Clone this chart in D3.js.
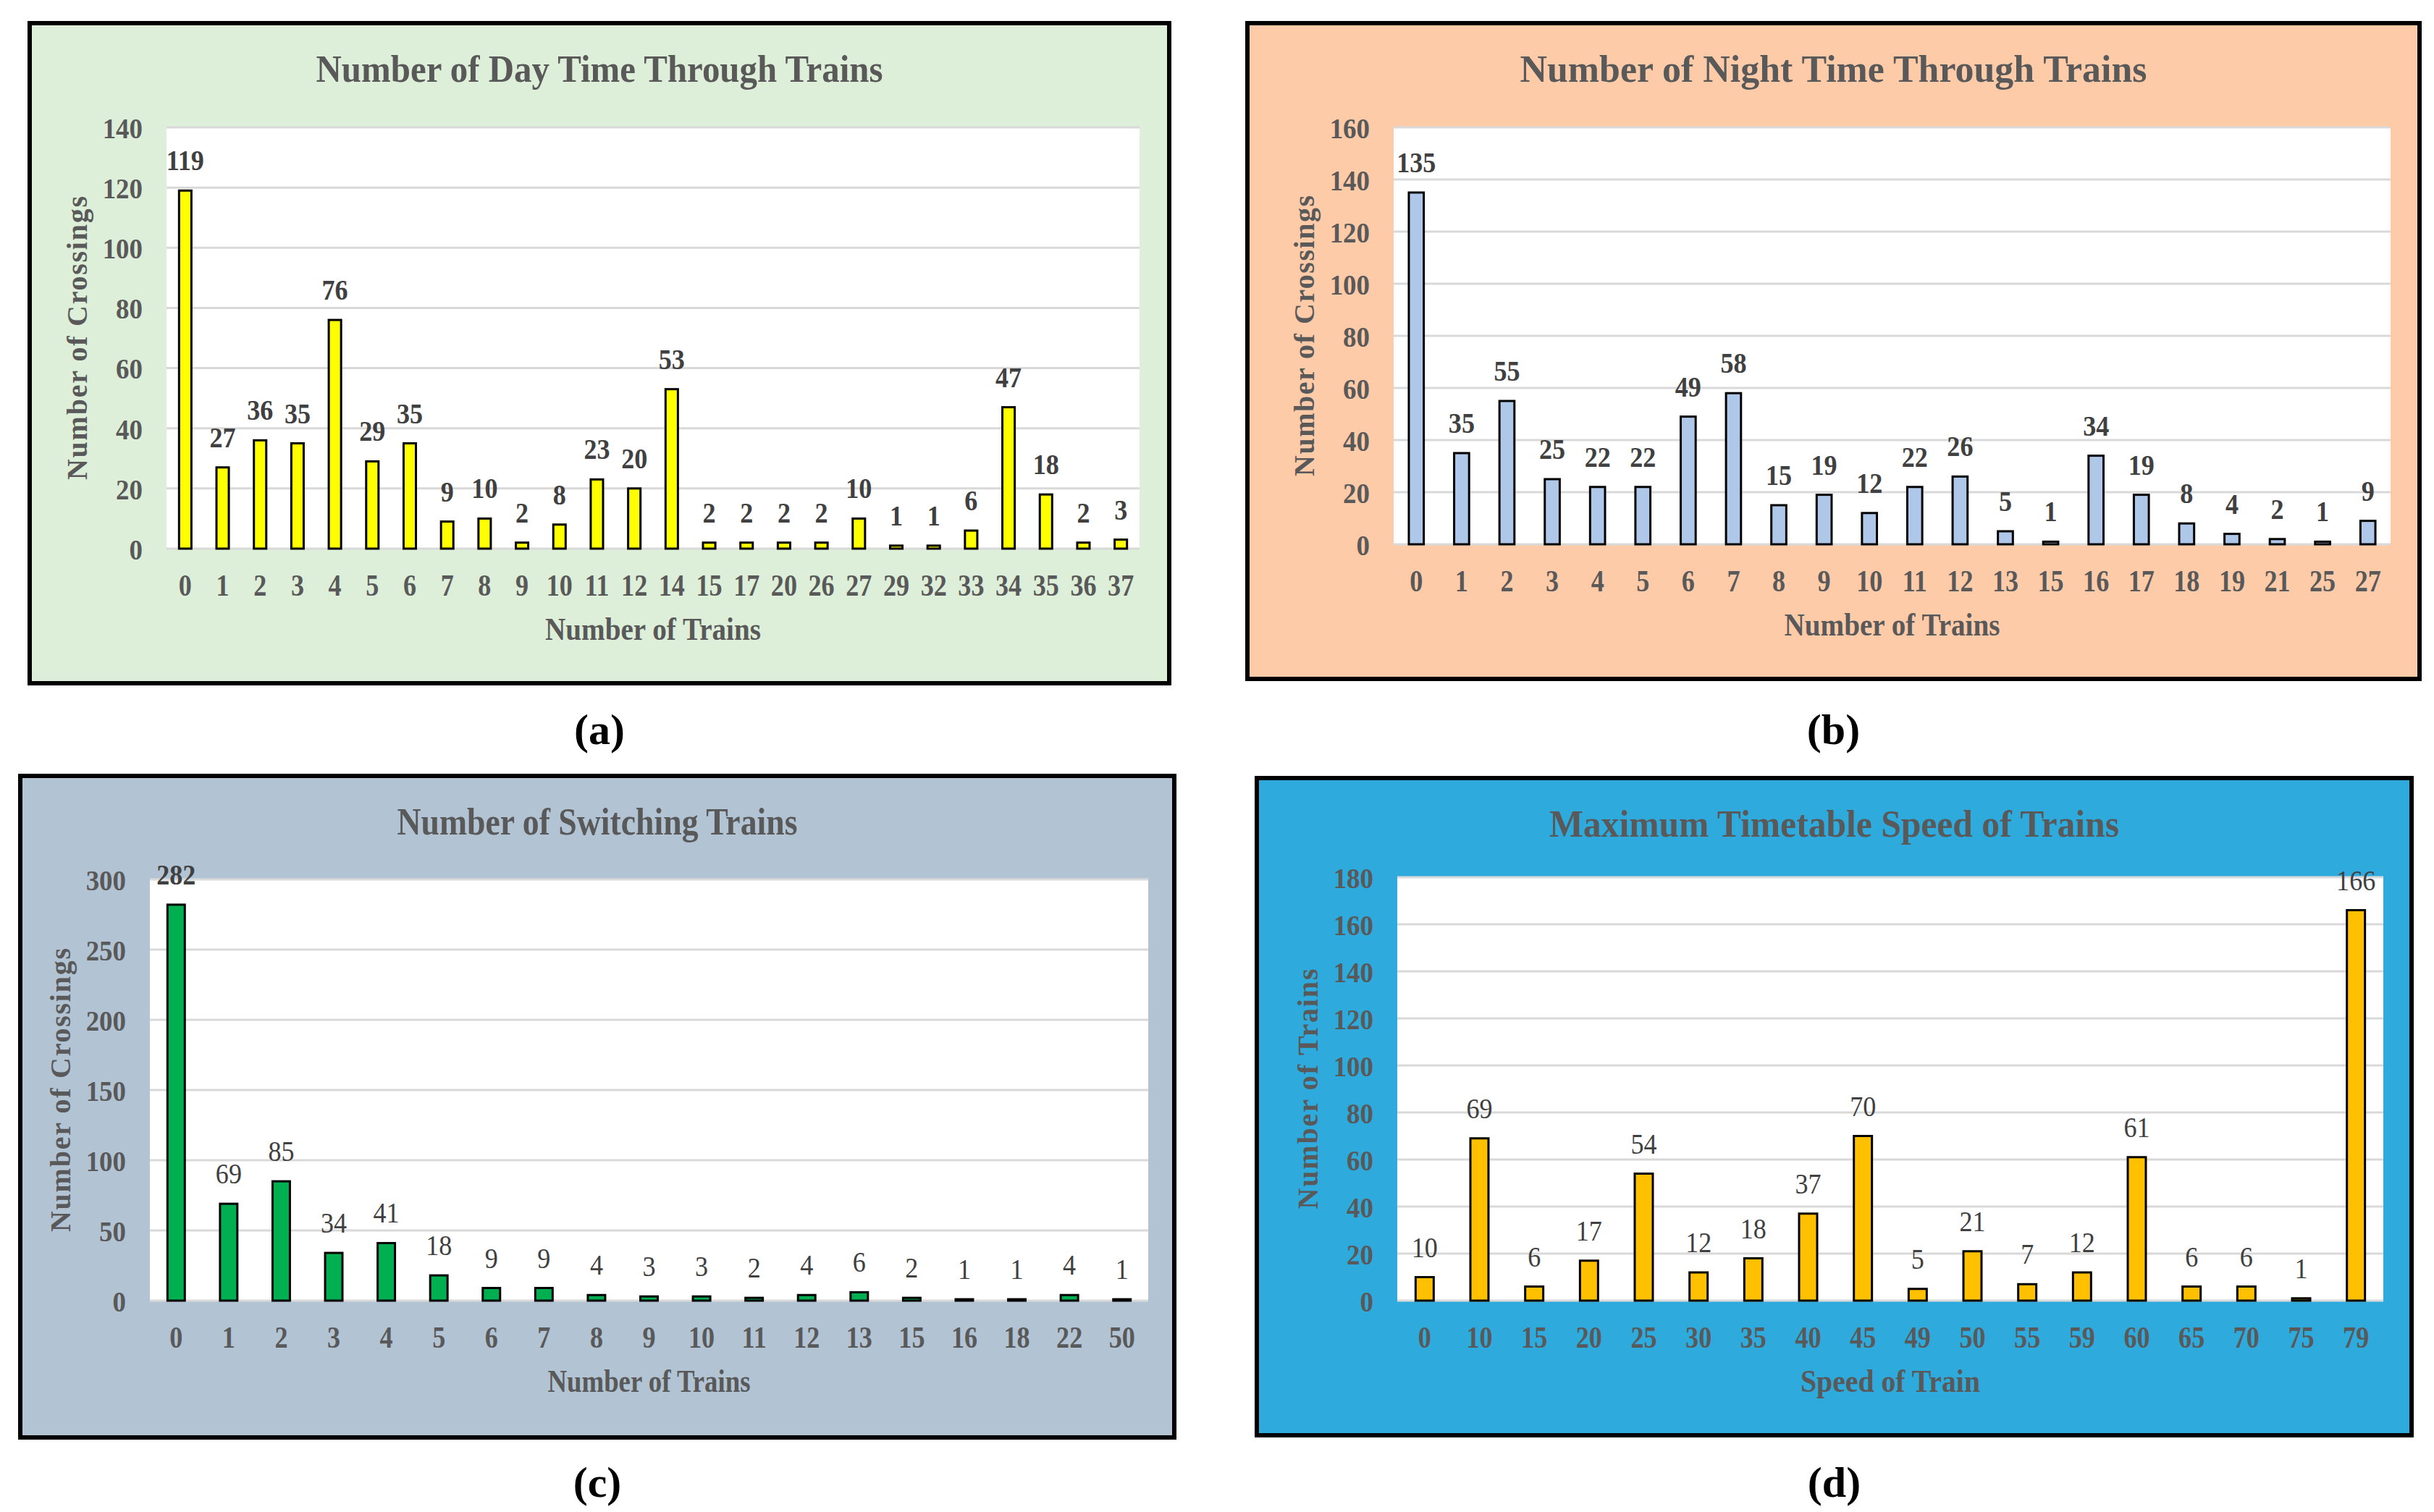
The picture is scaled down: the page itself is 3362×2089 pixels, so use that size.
<!DOCTYPE html>
<html>
<head>
<meta charset="utf-8">
<script src="https://cdn.jsdelivr.net/npm/d3@7"></script>
<style>
  body { margin: 0; background: #fff; }
  svg { display: block; }
</style>
</head>
<body>
<svg id="chart" width="3362" height="2089"></svg>
<script>
// (a) day time through trains
var dayTrains = ["0","1","2","3","4","5","6","7","8","9","10","11","12","14","15","17","20","26","27","29","32","33","34","35","36","37"];
var dayCrossings = [119,27,36,35,76,29,35,9,10,2,8,23,20,53,2,2,2,2,10,1,1,6,47,18,2,3];

// (b) night time through trains
var nightTrains = ["0","1","2","3","4","5","6","7","8","9","10","11","12","13","15","16","17","18","19","21","25","27"];
var nightCrossings = [135,35,55,25,22,22,49,58,15,19,12,22,26,5,1,34,19,8,4,2,1,9];

// (c) switching trains
var switchTrains = ["0","1","2","3","4","5","6","7","8","9","10","11","12","13","15","16","18","22","50"];
var switchCrossings = [282,69,85,34,41,18,9,9,4,3,3,2,4,6,2,1,1,4,1];

// (d) maximum timetable speed
var speeds = ["0","10","15","20","25","30","35","40","45","49","50","55","59","60","65","70","75","79"];
var speedTrains = [10,69,6,17,54,12,18,37,70,5,21,7,12,61,6,6,1,166];

var yTicksA = [0,20,40,60,80,100,120,140];
var yTicksB = [0,20,40,60,80,100,120,140,160];
var yTicksC = [0,50,100,150,200,250,300];
var yTicksD = [0,20,40,60,80,100,120,140,160,180];

var serif = "'Liberation Serif', 'Times New Roman', serif";
var svg = d3.select("#chart");

// layout of the four panels (box / plot = x0, y0, x1, y1)
var panels = [
  { title: "Number of Day Time Through Trains", cats: dayTrains, vals: dayCrossings, ticks: yTicksA,
    xTitle: "Number of Trains", yTitle: "Number of Crossings", tag: "(a)",
    bg: "#DEEFD9", bar: "#FFFF00", box: [38, 29, 1618, 947], plot: [230, 176, 1574, 758],
    titleW: 783, xTitleW: 298, yTitleW: 392, tagY: 1008, boldLabels: true, boldFirst: true },
  { title: "Number of Night Time Through Trains", cats: nightTrains, vals: nightCrossings, ticks: yTicksB,
    xTitle: "Number of Trains", yTitle: "Number of Crossings", tag: "(b)",
    bg: "#FECBA9", bar: "#AFC8EA", box: [1720, 29, 3345, 941], plot: [1925, 176, 3302, 752],
    titleW: 866, xTitleW: 298, yTitleW: 388, tagY: 1008, boldLabels: true, boldFirst: true },
  { title: "Number of Switching Trains", cats: switchTrains, vals: switchCrossings, ticks: yTicksC,
    xTitle: "Number of Trains", yTitle: "Number of Crossings", tag: "(c)",
    bg: "#B2C3D4", bar: "#00B050", box: [25, 1069, 1625, 1989], plot: [207, 1215, 1586, 1797],
    titleW: 553, xTitleW: 280, yTitleW: 392, tagY: 2048, boldLabels: false, boldFirst: true },
  { title: "Maximum Timetable Speed of Trains", cats: speeds, vals: speedTrains, ticks: yTicksD,
    xTitle: "Speed of Train", yTitle: "Number of Trains", tag: "(d)",
    bg: "#2EAADD", bar: "#FFC000", box: [1733, 1072, 3334, 1986], plot: [1930, 1212, 3292, 1797],
    titleW: 787, xTitleW: 248, yTitleW: 332, tagY: 2048, boldLabels: false, boldFirst: false }
];

panels.forEach(drawPanel);

function drawPanel(p) {
  var b = p.box, pl = p.plot;
  var g = svg.append("g");
  var cx = (b[0] + b[2]) / 2;

  // frame
  g.append("rect")
    .attr("x", b[0] + 3).attr("y", b[1] + 3)
    .attr("width", b[2] - b[0] - 6).attr("height", b[3] - b[1] - 6)
    .attr("fill", p.bg).attr("stroke", "#000").attr("stroke-width", 6);

  var x = d3.scaleBand().domain(p.cats).range([pl[0], pl[2]])
    .paddingInner(0.67).paddingOuter(0.335);
  var y = d3.scaleLinear().domain([0, d3.max(p.ticks)]).range([pl[3], pl[1]]);

  // plot area
  g.append("rect")
    .attr("x", pl[0]).attr("y", pl[1])
    .attr("width", pl[2] - pl[0]).attr("height", pl[3] - pl[1])
    .attr("fill", "#fff");

  // grid
  g.selectAll(".grid").data(p.ticks).enter().append("line")
    .attr("x1", pl[0]).attr("x2", pl[2])
    .attr("y1", function (d) { return y(d); })
    .attr("y2", function (d) { return y(d); })
    .attr("stroke", "#D9D9D9").attr("stroke-width", 3);

  // bars
  g.selectAll(".bar").data(p.vals).enter().append("rect")
    .attr("x", function (d, i) { return x(p.cats[i]); })
    .attr("y", function (d) { return y(d); })
    .attr("width", x.bandwidth())
    .attr("height", function (d) { return y(0) - y(d); })
    .attr("fill", p.bar).attr("stroke", "#000").attr("stroke-width", 3);

  // value labels
  g.selectAll(".lbl").data(p.vals).enter().append("text")
    .attr("transform", function (d, i) {
      return "translate(" + (x(p.cats[i]) + x.bandwidth() / 2) + "," + (y(d) - 28) + ") scale(0.88,1)";
    })
    .attr("text-anchor", "middle")
    .attr("font-family", serif).attr("font-size", 41)
    .attr("font-weight", function (d, i) { return (p.boldLabels || (i === 0 && p.boldFirst)) ? "bold" : "normal"; })
    .attr("fill", "#404040")
    .text(function (d) { return d; });

  // y axis
  var ya = g.append("g").attr("transform", "translate(" + pl[0] + ",0)")
    .call(d3.axisLeft(y).tickValues(p.ticks).tickSize(0).tickPadding(33));
  ya.select(".domain").remove();
  ya.selectAll("text")
    .attr("font-family", serif).attr("font-size", 41).attr("font-weight", "bold")
    .attr("fill", "#595959").attr("x", 0).attr("dy", "0.35em")
    .attr("transform", "translate(-33,0) scale(0.9,1)");

  // x axis
  var xa = g.append("g").attr("transform", "translate(0," + pl[3] + ")")
    .call(d3.axisBottom(x).tickSize(0));
  xa.select(".domain").remove();
  xa.selectAll("text")
    .attr("font-family", serif).attr("font-size", 42).attr("font-weight", "bold")
    .attr("fill", "#595959").attr("y", 0).attr("dy", "0.35em")
    .attr("transform", "translate(0,50) scale(0.86,1)");

  // titles
  g.append("text")
    .attr("x", cx).attr("y", b[1] + 84)
    .attr("text-anchor", "middle")
    .attr("font-family", serif).attr("font-size", 53).attr("font-weight", "bold")
    .attr("fill", "#595959")
    .attr("textLength", p.titleW).attr("lengthAdjust", "spacingAndGlyphs")
    .text(p.title);

  g.append("text")
    .attr("x", (pl[0] + pl[2]) / 2).attr("y", pl[3] + 126)
    .attr("text-anchor", "middle")
    .attr("font-family", serif).attr("font-size", 44).attr("font-weight", "bold")
    .attr("fill", "#595959")
    .attr("textLength", p.xTitleW).attr("lengthAdjust", "spacingAndGlyphs")
    .text(p.xTitle);

  g.append("text")
    .attr("transform", "translate(" + (pl[0] - 110) + "," + ((pl[1] + pl[3]) / 2) + ") rotate(-90)")
    .attr("text-anchor", "middle")
    .attr("font-family", serif).attr("font-size", 40).attr("font-weight", "bold")
    .attr("fill", "#595959")
    .attr("textLength", p.yTitleW).attr("lengthAdjust", "spacing")
    .text(p.yTitle);

  // panel tag
  svg.append("text")
    .attr("x", cx).attr("y", p.tagY + 20)
    .attr("text-anchor", "middle")
    .attr("font-family", serif).attr("font-size", 60).attr("font-weight", "bold")
    .attr("fill", "#000")
    .text(p.tag);
}
</script>
</body>
</html>
